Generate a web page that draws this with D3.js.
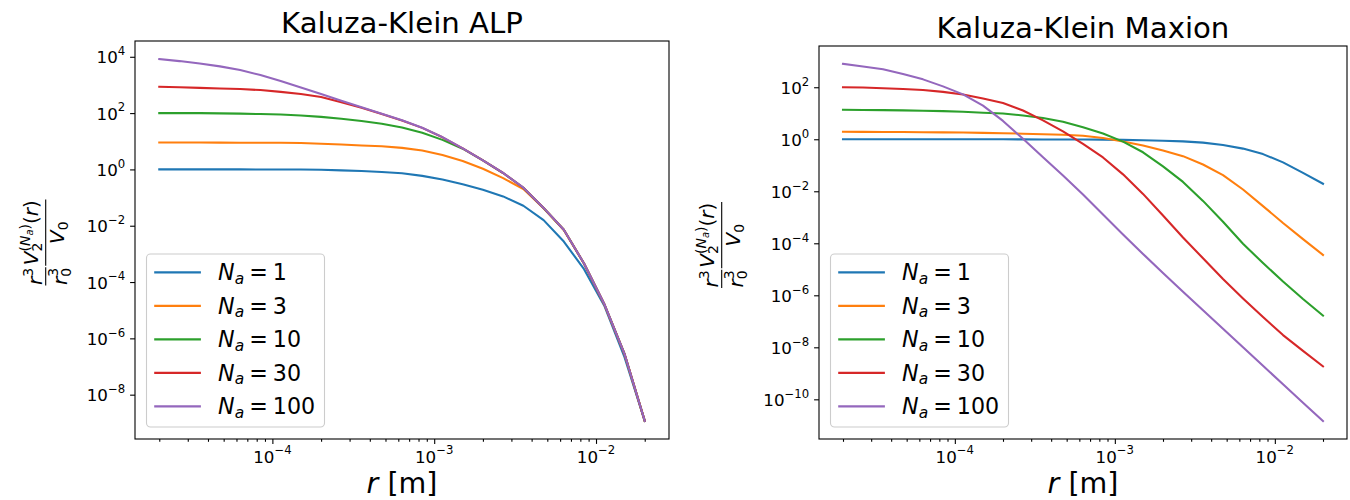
<!DOCTYPE html>
<html><head><meta charset="utf-8">
<script src="https://cdn.jsdelivr.net/npm/d3@7"></script>
<style>
body{margin:0;background:#fff}
svg{display:block}
text{font-family:"DejaVu Sans",sans-serif;fill:#000}
</style>
</head><body>
<svg id="c" width="1350" height="500"></svg>
<script>
// ---------- data ----------
const radius = [2.000e-5, 2.667e-5, 3.557e-5, 4.743e-5, 6.325e-5, 8.434e-5, 1.125e-4, 1.500e-4, 2.000e-4,
  2.667e-4, 3.557e-4, 4.743e-4, 6.325e-4, 8.434e-4, 1.125e-3, 1.500e-3, 2.000e-3, 2.667e-3, 3.557e-3,
  4.743e-3, 6.325e-3, 8.434e-3, 1.125e-2, 1.500e-2, 2.000e-2];

const seriesNa = ["1", "3", "10", "30", "100"];
const seriesColors = ["#1f77b4", "#ff7f0e", "#2ca02c", "#d62728", "#9467bd"];
const titles = ["Kaluza-Klein ALP", "Kaluza-Klein Maxion"];
const xTickExponents = [-4, -3, -2];
const yTickExponentsAlp = [4, 2, 0, -2, -4, -6, -8];
const yTickExponentsMaxion = [2, 0, -2, -4, -6, -8, -10];

// Kaluza-Klein ALP
const alpN1 = [1, 1, 1, 1, 1, 0.998, 0.995, 0.991, 0.966, 0.927, 0.875, 0.807, 0.731, 0.589, 0.437, 0.295,
  0.191, 0.110, 0.0513, 0.0158, 2.75e-3, 2.85e-4, 1.45e-5, 2.14e-7, 1.17e-9];
const alpN3 = [9.0, 9.0, 8.97, 8.95, 8.91, 8.87, 8.79, 8.61, 8.13, 7.71, 7.05, 6.61, 5.83, 4.68, 3.24, 2.00,
  1.05, 0.490, 0.200, 0.0417, 7.08e-3, 4.47e-4, 1.62e-5, 2.75e-7, 1.17e-9];
const alpN10 = [100, 100, 99.5, 97.7, 95.5, 92.5, 88.7, 81.8, 73.5, 63.0, 52.1, 41.7, 30.9, 20.0, 11.2, 5.43,
  2.08, 0.745, 0.223, 0.0429, 7.21e-3, 4.57e-4, 1.64e-5, 2.79e-7, 1.17e-9];
const alpN30 = [861, 826, 787, 743, 713, 658, 568, 474, 371, 245, 155, 92.3, 55.0, 29.9, 13.8, 5.56,
  2.09, 0.746, 0.223, 0.0430, 7.23e-3, 4.57e-4, 1.65e-5, 2.81e-7, 1.17e-9];
const alpN100 = [8280, 7030, 5740, 4560, 3370, 2240, 1390, 813, 473, 275, 160, 94.4, 55.6, 30.2, 14.0, 5.60,
  2.10, 0.750, 0.224, 0.0430, 7.23e-3, 4.57e-4, 1.66e-5, 2.82e-7, 1.17e-9];

// Kaluza-Klein Maxion
const maxN1 = [1, 1, 1, 1, 1, 1, 1, 1, 1, 0.989, 0.977, 0.977, 0.977, 0.966, 0.944, 0.916, 0.881, 0.832,
  0.741, 0.603, 0.437, 0.269, 0.129, 0.0513, 0.0195];
const maxN3 = [1.94, 1.93, 1.91, 1.89, 1.87, 1.84, 1.81, 1.76, 1.70, 1.64, 1.57, 1.50, 1.36, 1.12, 0.813,
  0.575, 0.372, 0.224, 0.107, 0.0417, 0.0117, 2.69e-3, 6.03e-4, 1.45e-4, 3.57e-5];
const maxN10 = [13.6, 13.4, 13.2, 12.9, 12.4, 12.1, 11.4, 10.5, 9.77, 8.18, 6.61, 4.68, 2.88, 1.66, 0.813,
  0.316, 0.0912, 0.0229, 4.27e-3, 6.76e-4, 9.55e-5, 1.74e-5, 3.39e-6, 7.24e-7, 1.66e-7];
const maxN30 = [100, 97.3, 91.6, 85.3, 78.0, 66.5, 52.5, 36.8, 24.7, 12.7, 5.35, 2.02, 0.661, 0.200, 0.0447,
  7.94e-3, 1.17e-3, 1.68e-4, 2.65e-5, 4.21e-6, 7.59e-7, 1.46e-7, 2.95e-8, 7.33e-9, 1.86e-9];
const maxN100 = [793, 631, 492, 324, 201, 108, 53.3, 19.6, 5.07, 1.04, 0.205, 0.0402, 7.59e-3, 1.29e-3,
  2.19e-4, 3.91e-5, 7.28e-6, 1.36e-6, 2.64e-7, 5.14e-8, 1.0e-8, 1.95e-9, 3.80e-10, 7.41e-11, 1.45e-11];

// ---------- drawing ----------
const svg = d3.select("#c");
const panels = [
  {title: titles[0], series: [alpN1, alpN3, alpN10, alpN30, alpN100], yTicks: yTickExponentsAlp,
   box: {l: 135, r: 669, t: 41, b: 439}, labelX: 45.7, labelY: 242.5},
  {title: titles[1], series: [maxN1, maxN3, maxN10, maxN30, maxN100], yTicks: yTickExponentsMaxion,
   box: {l: 819, r: 1347, t: 46, b: 439}, labelX: 721.7, labelY: 245}
];

function logMargin(vals) {
  const [lo, hi] = d3.extent(vals);
  const a = Math.log10(lo), b = Math.log10(hi), m = 0.05 * (b - a);
  return [Math.pow(10, a - m), Math.pow(10, b + m)];
}

function superLabel(sel, exp, base, sup, raise) {
  sel.append("tspan").attr("font-size", base).text("10");
  sel.append("tspan").attr("font-size", sup).attr("dy", -raise)
    .text(exp < 0 ? "\u2212" + Math.abs(exp) : String(exp));
}

// lay out a row of math pieces in one <text>; returns the text node
function mathRow(parent, pieces, x, y) {
  const t = parent.append("text").attr("x", x).attr("y", y);
  let cur = 0;
  pieces.forEach(p => {
    const ts = t.append("tspan").attr("font-size", p.s).text(p.t);
    if (p.it) ts.attr("font-style", "italic");
    const dy = (p.o || 0) - cur;
    if (dy) ts.attr("dy", dy);
    cur = p.o || 0;
    if (p.back) ts.attr("dx", -p.back);
  });
  return t;
}

function frac(parent, x0, num, den, numBase, denBase) {
  const n = mathRow(parent, num, 0, numBase);
  const d = mathRow(parent, den, 0, denBase);
  const wn = n.node().getBBox().width, wd = d.node().getBBox().width;
  const w = Math.max(wn, wd) + 1;
  n.attr("x", x0 + (w - wn) / 2);
  d.attr("x", x0 + (w - wd) / 2);
  parent.append("line").attr("x1", x0).attr("x2", x0 + w).attr("y1", 0).attr("y2", 0)
    .attr("stroke", "#000").attr("stroke-width", 1.1);
  return w;
}

function yLabel(cx, cy) {
  const g = svg.append("g").attr("transform", `translate(${cx},${cy}) rotate(-90)`);
  const inner = g.append("g");
  const F = 20, S = 14, SS = 10;
  const w1 = frac(inner, 0,
    [{t: "r", s: F, it: true}, {t: "3", s: S, o: -8.5}],
    [{t: "r", s: F, it: true}, {t: "0", s: S, o: 4}, {t: "3", s: S, o: -8.5, back: 8.9}],
    -4, 21);
  const x2 = w1 + 1.5;
  const w2 = frac(inner, x2,
    [{t: "V", s: F, it: true}, {t: "2", s: S, o: 4},
     {t: "(", s: S, o: -8.5, back: 8.9}, {t: "N", s: S, it: true, o: -8.5}, {t: "a", s: SS, it: true, o: -5.5},
     {t: ")", s: S, o: -8.5}, {t: "(", s: F, o: 0}, {t: "r", s: F, it: true}, {t: ")", s: F}],
    [{t: "V", s: F, it: true}, {t: "0", s: S, o: 4}],
    -7.5, 18.5);
  inner.attr("transform", `translate(${-(x2 + w2) / 2},0)`);
}

panels.forEach(p => {
  const B = p.box;
  const allVals = p.series.flat();
  const x = d3.scaleLog().domain(logMargin(radius)).range([B.l, B.r]);
  const y = d3.scaleLog().domain(logMargin(allVals)).range([B.b, B.t]);
  const g = svg.append("g");

  // series lines
  const line = d3.line().x((d, i) => x(radius[i])).y(d => y(d));
  p.series.forEach((s, k) => {
    g.append("path").datum(s).attr("d", line).attr("fill", "none")
      .attr("stroke", seriesColors[k]).attr("stroke-width", 2.08)
      .attr("stroke-linejoin", "round").attr("stroke-linecap", "square");
  });

  // frame
  g.append("rect").attr("x", B.l).attr("y", B.t).attr("width", B.r - B.l).attr("height", B.b - B.t)
    .attr("fill", "none").attr("stroke", "#000").attr("stroke-width", 1.1);

  // x ticks
  const [dx0, dx1] = x.domain();
  const minors = [];
  for (let e = -6; e <= 0; e++) for (let k = 2; k <= 9; k++) {
    const v = k * Math.pow(10, e);
    if (v >= dx0 && v <= dx1) minors.push(v);
  }
  const xMaj = g.append("g").attr("transform", `translate(0,${B.b})`)
    .call(d3.axisBottom(x).tickValues(xTickExponents.map(e => Math.pow(10, e))).tickSize(4.9).tickFormat(""));
  const xMin = g.append("g").attr("transform", `translate(0,${B.b})`)
    .call(d3.axisBottom(x).tickValues(minors).tickSize(2.8).tickFormat(""));
  [xMaj, xMin].forEach(a => { a.select(".domain").remove(); a.selectAll("line").attr("stroke-width", 1.1); });
  xTickExponents.forEach(e => {
    const t = g.append("text").attr("x", x(Math.pow(10, e))).attr("y", B.b + 23.5).attr("text-anchor", "middle");
    superLabel(t, e, 16.7, 11.7, 8.3);
  });

  // y ticks
  const yAx = g.append("g").attr("transform", `translate(${B.l},0)`)
    .call(d3.axisLeft(y).tickValues(p.yTicks.map(e => Math.pow(10, e))).tickSize(4.9).tickFormat(""));
  yAx.select(".domain").remove();
  yAx.selectAll("line").attr("stroke-width", 1.1);
  p.yTicks.forEach(e => {
    const t = g.append("text").attr("x", B.l - 9.8).attr("y", y(Math.pow(10, e)) + 6.6).attr("text-anchor", "end");
    superLabel(t, e, 16.7, 11.7, 8.3);
  });

  // title and x label
  g.append("text").attr("x", (B.l + B.r) / 2).attr("y", B.t - 8.5).attr("text-anchor", "middle")
    .attr("font-size", 29.2).text(p.title);
  const xl = g.append("text").attr("x", (B.l + B.r) / 2).attr("y", 493).attr("text-anchor", "middle")
    .attr("font-size", 28.5);
  xl.append("tspan").attr("font-style", "italic").text("r");
  xl.append("tspan").text(" [m]");

  yLabel(p.labelX, p.labelY);

  // legend
  const lx = B.l + 11.5, lh = 173, ly = B.b - 12 - lh, lw = 178;
  const lg = g.append("g");
  lg.append("rect").attr("x", lx).attr("y", ly).attr("width", lw).attr("height", lh).attr("rx", 4)
    .attr("fill", "#fff").attr("fill-opacity", 0.8).attr("stroke", "#cccccc").attr("stroke-width", 1.1);
  seriesNa.forEach((n, k) => {
    const cy = ly + 18.4 + k * 33.5;
    lg.append("line").attr("x1", lx + 7.7).attr("x2", lx + 54.4).attr("y1", cy).attr("y2", cy)
      .attr("stroke", seriesColors[k]).attr("stroke-width", 2.08);
    const t = lg.append("text").attr("x", lx + 71.6).attr("y", cy + 8).attr("font-size", 22.2);
    t.append("tspan").attr("font-style", "italic").text("N");
    t.append("tspan").attr("font-style", "italic").attr("font-size", 15.5).attr("dy", 3.5).text("a");
    t.append("tspan").attr("dy", -3.5).attr("dx", 5).text("=");
    t.append("tspan").attr("dx", 5).text(n);
  });
});
</script>
</body></html>
